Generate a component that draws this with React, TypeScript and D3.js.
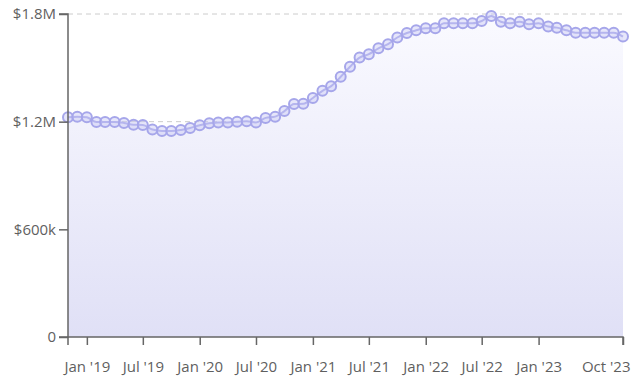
import React, { useEffect, useRef } from 'react';
import * as d3 from 'd3';

// monthly values, Nov 2018 .. Oct 2023
const startMonth = new Date(2018, 10, 1);
const values = [
  1224, 1228, 1224, 1198, 1198, 1198, 1193, 1183, 1182, 1156,
  1148, 1148, 1154, 1165, 1180, 1191, 1196, 1196, 1200, 1202,
  1196, 1221, 1228, 1259, 1298, 1300, 1332, 1372, 1398, 1450,
  1506, 1557, 1576, 1609, 1632, 1669, 1694, 1709, 1721, 1721,
  1748, 1748, 1748, 1748, 1761, 1789, 1757, 1748, 1757, 1743,
  1748, 1730, 1724, 1709, 1696, 1696, 1696, 1696, 1696, 1674,
].map(v => v * 1000);
const yTicks = [0, 600000, 1200000, 1800000];
const yTickLabels = ['0', '$600k', '$1.2M', '$1.8M'];
const xTickDates = [
  new Date(2019, 0, 1), new Date(2019, 6, 1), new Date(2020, 0, 1), new Date(2020, 6, 1),
  new Date(2021, 0, 1), new Date(2021, 6, 1), new Date(2022, 0, 1), new Date(2022, 6, 1),
  new Date(2023, 0, 1), new Date(2023, 9, 1),
];

const data = values.map((v, i) => ({ date: d3.timeMonth.offset(startMonth, i), value: v }));

export default function App() {
  const ref = useRef<SVGSVGElement>(null);

  useEffect(() => {
    const svg = d3.select(ref.current);
    svg.selectAll('*').remove();

    const margin = { top: 14, right: 11, bottom: 47, left: 68 };
    const width = 634, height = 384;
    const textColor = '#666';
    const lineColor = '#a6a6ea';

    const x = d3.scaleTime()
      .domain(d3.extent(data, d => d.date) as [Date, Date])
      .range([margin.left, width - margin.right]);
    const y = d3.scaleLinear()
      .domain([0, 1800000])
      .range([height - margin.bottom, margin.top]);

    const defs = svg.append('defs');
    const grad = defs.append('linearGradient')
      .attr('id', 'areaFill')
      .attr('x1', 0).attr('y1', 0).attr('x2', 0).attr('y2', 1);
    grad.append('stop').attr('offset', '0%').attr('stop-color', '#fafaff');
    grad.append('stop').attr('offset', '100%').attr('stop-color', '#e0e0f6');

    // grid
    svg.append('g')
      .selectAll('line')
      .data(yTicks.filter(t => t > 0))
      .join('line')
      .attr('x1', margin.left)
      .attr('x2', width - margin.right)
      .attr('y1', d => y(d))
      .attr('y2', d => y(d))
      .attr('stroke', '#ccc')
      .attr('stroke-dasharray', '5,4');

    // area + line
    const area = d3.area<{ date: Date; value: number }>()
      .x(d => x(d.date))
      .y0(y(0))
      .y1(d => y(d.value))
      .curve(d3.curveMonotoneX);
    svg.append('path')
      .datum(data)
      .attr('d', area)
      .attr('fill', 'url(#areaFill)');

    const line = d3.line<{ date: Date; value: number }>()
      .x(d => x(d.date))
      .y(d => y(d.value))
      .curve(d3.curveMonotoneX);
    svg.append('path')
      .datum(data)
      .attr('d', line)
      .attr('fill', 'none')
      .attr('stroke', lineColor)
      .attr('stroke-width', 2);

    svg.append('g')
      .selectAll('circle')
      .data(data)
      .join('circle')
      .attr('cx', d => x(d.date))
      .attr('cy', d => y(d.value))
      .attr('r', 5)
      .attr('fill', 'rgba(200,200,245,0.45)')
      .attr('stroke', lineColor)
      .attr('stroke-width', 2);

    // axes
    const yAxis = svg.append('g')
      .attr('transform', `translate(${margin.left},0)`)
      .call(d3.axisLeft(y).tickValues(yTicks).tickSize(9).tickPadding(3)
        .tickFormat((d, i) => yTickLabels[i]));
    const xAxis = svg.append('g')
      .attr('transform', `translate(0,${height - margin.bottom})`)
      .call(d3.axisBottom(x).tickValues(xTickDates).tickSize(8).tickPadding(16)
        .tickFormat(d => d3.timeFormat("%b '%y")(d as Date)));

    [yAxis, xAxis].forEach(g => {
      g.select('.domain').attr('stroke', textColor).attr('stroke-width', 1.5);
      g.selectAll('.tick line').attr('stroke', textColor).attr('stroke-width', 1.5);
      g.selectAll('.tick text')
        .attr('fill', '#5f5f5f')
        .style('font-family', '"Open Sans", "Noto Sans", sans-serif')
        .style('font-size', '15px');
    });
    yAxis.select('.domain').attr('d', `M-9,${y(1800000)}H0V${y(0)}H-9`);
    xAxis.select('.domain').attr('d', `M${margin.left},8V0H${width - margin.right}V8`);
    // keep the last label inside the frame
    xAxis.selectAll<SVGTextElement, Date>('.tick text')
      .filter((d, i, n) => i === n.length - 1)
      .attr('text-anchor', 'end')
      .attr('x', 7);
  }, []);

  return (
    <svg
      ref={ref}
      width={634}
      height={384}
      style={{ position: 'absolute', left: 0, top: 0, background: '#fff' }}
    />
  );
}
